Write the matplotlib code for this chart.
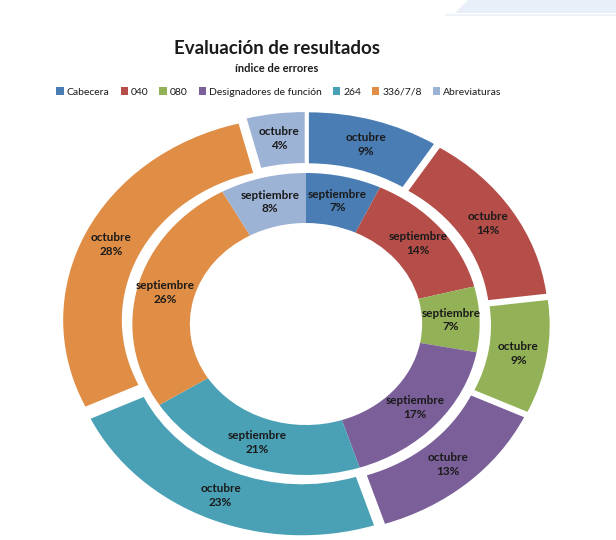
import matplotlib
matplotlib.use("Agg")
import matplotlib.pyplot as plt
from matplotlib.patches import Polygon

categorias = ["Cabecera", "040", "080", "Designadores de función", "264", "336/7/8", "Abreviaturas"]
septiembre = [7, 14, 7, 17, 21, 26, 8]
octubre = [9, 14, 9, 13, 23, 28, 4]
colores = ["#4A7DB4", "#B54D48", "#93B156", "#7A5F99", "#4AA0B5", "#E08D45", "#9DB3D6"]

plt.rcParams['font.family'] = ['Lato', 'DejaVu Sans']

fig = plt.figure(figsize=(6.16, 5.4), dpi=100)

# slide decoration top right
fig.patches.append(Polygon([(455/616, 1-13/540), (468/616, 1.0), (1.0, 1.0), (1.0, 1-13/540)],
                           closed=True, transform=fig.transFigure, facecolor="#E8EFF8",
                           edgecolor="none", zorder=0))
fig.patches.append(Polygon([(445/616, 1-14/540), (1.0, 1-14/540), (1.0, 1-16/540), (445/616, 1-16/540)],
                           closed=True, transform=fig.transFigure, facecolor="#EEF3FA",
                           edgecolor="none", zorder=0))

ax = fig.add_axes([0, 0, 1, 1])

r_in = 151
r_out = 203
lbl = dict(fontsize=8.5, fontweight='bold', color='#1a1a1a', ha='center', va='center', linespacing=1.3)

# inner ring = septiembre, outer ring = octubre (exploded)
w_in, _, _ = ax.pie(septiembre, radius=r_in, colors=colores, startangle=90,
                    counterclock=False, wedgeprops=dict(width=50, linewidth=0),
                    autopct=lambda p: "septiembre\n%.0f%%" % p, pctdistance=0.835,
                    textprops=lbl)
ax.pie(octubre, radius=r_out, colors=colores, startangle=90, counterclock=False,
       explode=[9] * len(octubre), wedgeprops=dict(width=51, linewidth=0),
       autopct=lambda p: "octubre\n%.0f%%" % p, pctdistance=0.877, textprops=lbl)

ax.set_aspect('auto')
ax.set_xlim(-306 / 1.15, 310 / 1.15)
ax.set_ylim(-216, 324)
ax.axis('off')

fig.text(277/616, 1-49/540, "Evaluación de resultados", ha='center', va='center',
         fontsize=13.5, fontweight='bold', color='#1a1a1a')
fig.text(277/616, 1-68/540, "índice de errores", ha='center', va='center',
         fontsize=8, fontweight='bold', color='#1a1a1a')

fig.legend(w_in, categorias, loc='center', bbox_to_anchor=(279/616, 1-92/540), ncol=7,
           frameon=False, fontsize=7.5, handlelength=0.7, handleheight=0.7,
           handletextpad=0.3, columnspacing=1.05, labelcolor='#1a1a1a')

fig.savefig("out.png", dpi=100)
